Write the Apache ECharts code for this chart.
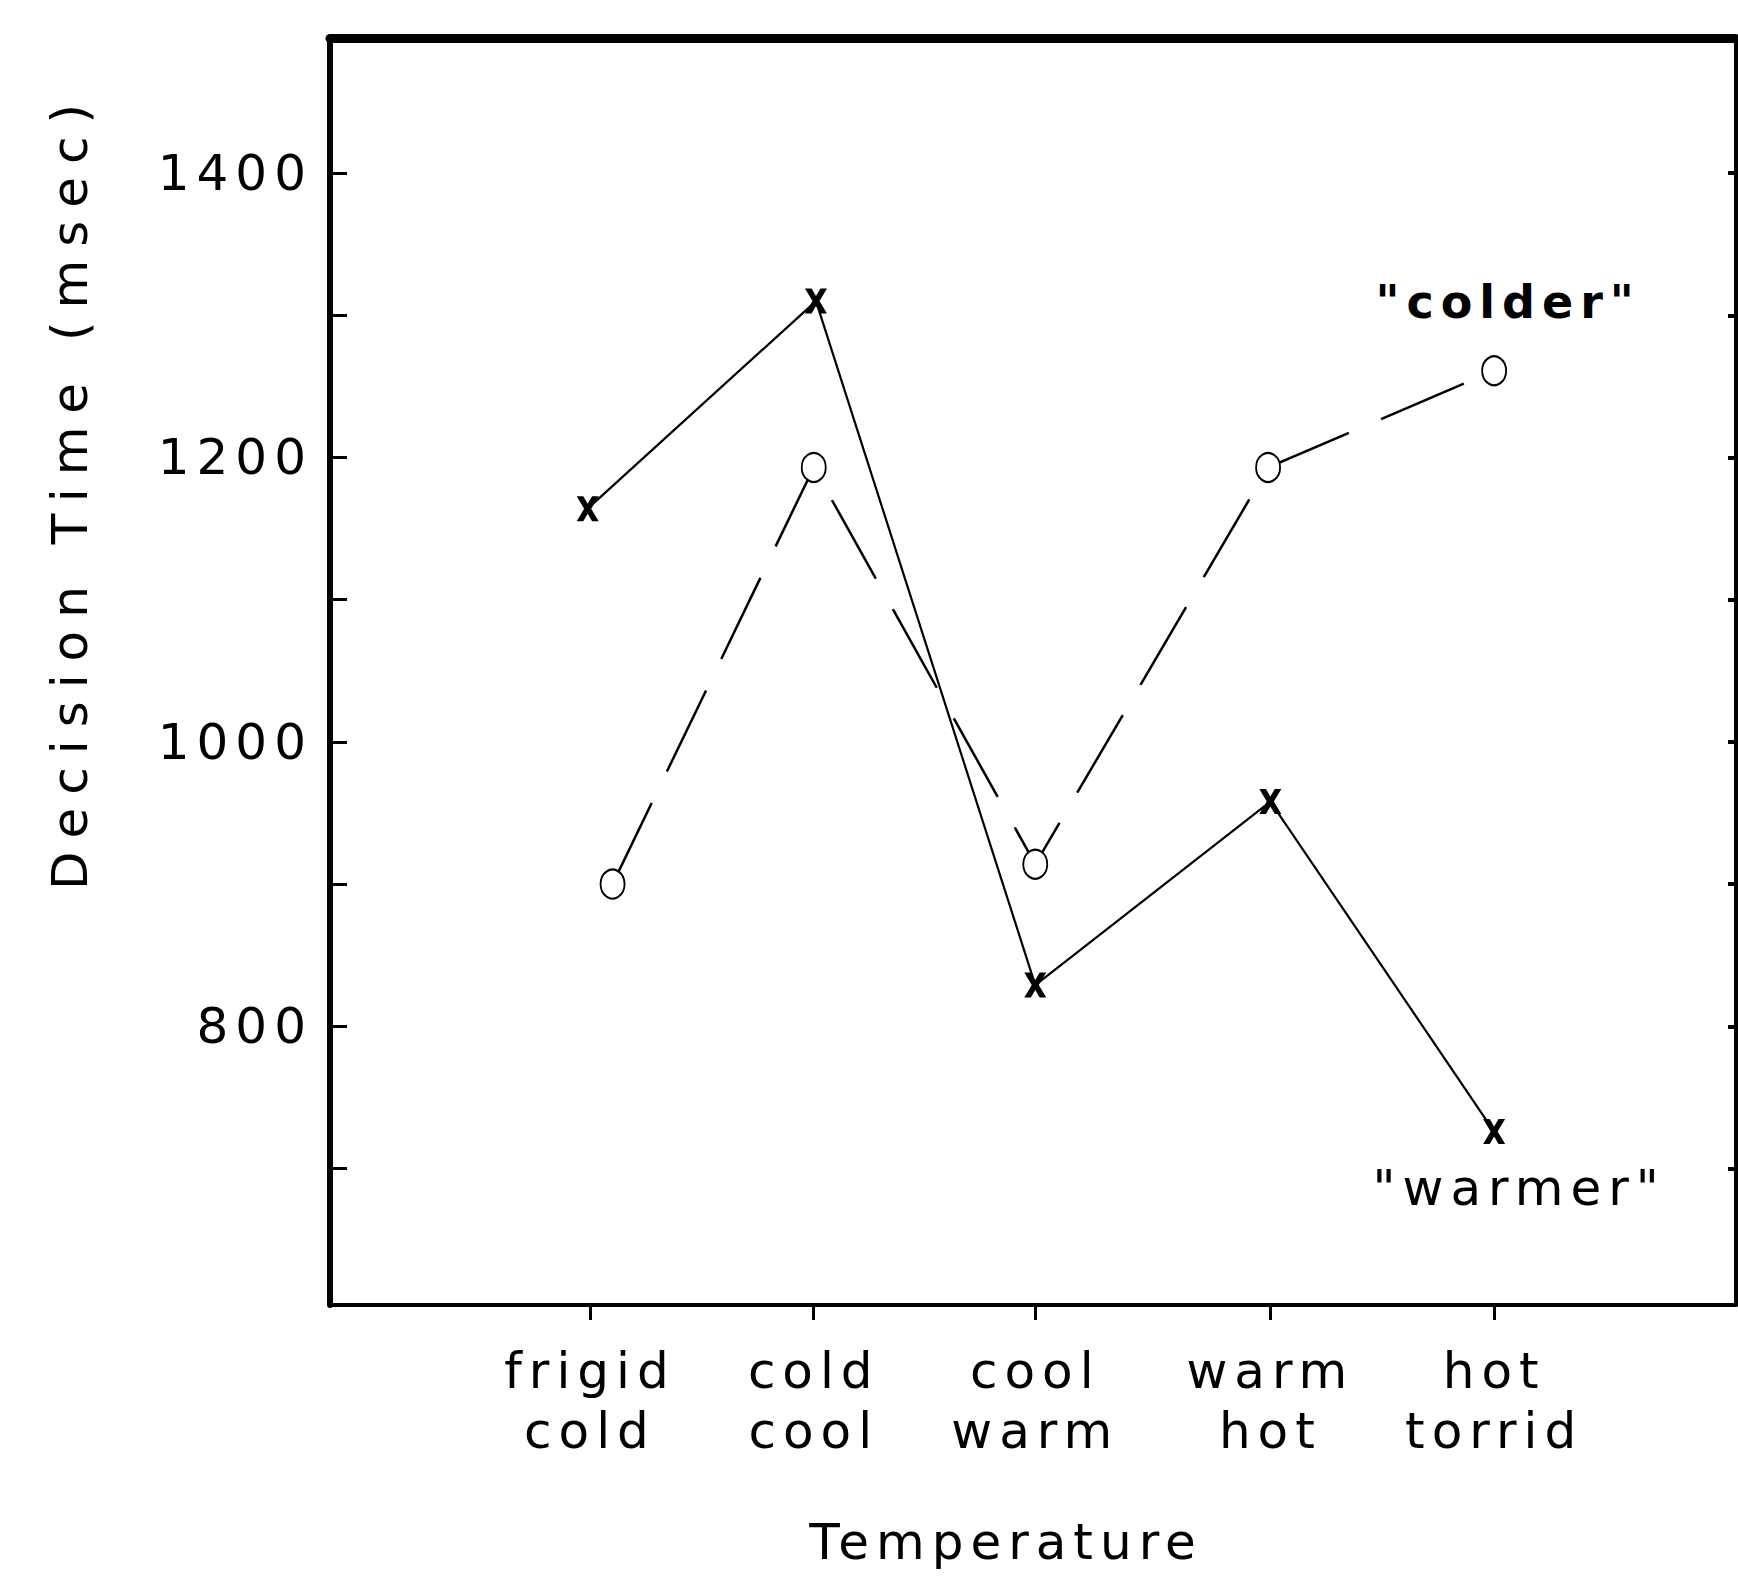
<!DOCTYPE html>
<html><head><meta charset="utf-8">
<script src="https://cdn.jsdelivr.net/npm/echarts@6/dist/echarts.min.js"></script>
<style>html,body{margin:0;padding:0;background:#fff}#c{width:1738px;height:1576px}#c text{letter-spacing:7px}</style>
</head><body><div id="c"></div>
<script>
// ---- data ----
const categories = ['frigid\ncold', 'cold\ncool', 'cool\nwarm', 'warm\nhot', 'hot\ntorrid'];
const categoryX = [1, 1.99, 2.97, 4.01, 5];
const warmerX = [0.99, 2.0, 2.97, 4.01, 5];
const warmerY = [1164, 1310, 829, 958, 726];
const colderX = [1.10, 1.99, 2.97, 4.0, 5];
const colderY = [900, 1193, 914, 1193, 1261];
const yTickValues = [700, 800, 900, 1000, 1100, 1200, 1300, 1400];
const yLabelValues = [800, 1000, 1200, 1400];
const yRange = [604, 1495];
const xRange = [-0.15, 6.07];
const xTitle = 'Temperature';
const yTitle = 'Decision Time (msec)';
const colderName = '"colder"';
const warmerName = '"warmer"';

const FONT = '"DejaVu Sans", sans-serif';
const BLACK = '#000';
const xMark = 'path://M0,0 L3,0 L5,3 L7,0 L10,0 L6.6,5 L10,10 L7,10 L5,7 L3,10 L0,10 L3.4,5 Z';

function catLabel(v) {
  let best = 0;
  categoryX.forEach((c, i) => { if (Math.abs(c - v) < Math.abs(categoryX[best] - v)) best = i; });
  return categories[best];
}

const chart = echarts.init(document.getElementById('c'), null, {renderer: 'svg'});
const option = {
  animation: false,
  backgroundColor: '#fff',
  grid: {left: 330, right: 2, top: 38, bottom: 271, containLabel: false, outerBoundsMode: 'none'},
  xAxis: [{
    type: 'value', position: 'bottom', min: xRange[0], max: xRange[1],
    axisLine: {show: true, onZero: false, lineStyle: {color: BLACK, width: 4}},
    axisTick: {show: true, inside: false, length: 15, customValues: categoryX, lineStyle: {color: BLACK, width: 3}},
    axisLabel: {show: true, customValues: categoryX, formatter: catLabel, color: BLACK,
      fontFamily: FONT, fontSize: 50, lineHeight: 60, margin: 36},
    splitLine: {show: false},
    name: xTitle, nameLocation: 'middle', nameGap: 212,
    nameTextStyle: {color: BLACK, fontFamily: FONT, fontSize: 50, padding: [0, 54, 0, 0]}
  }, {
    type: 'value', position: 'top', min: xRange[0], max: xRange[1],
    axisLine: {show: true, onZero: false, lineStyle: {color: BLACK, width: 9}},
    axisTick: {show: false}, axisLabel: {show: false}, splitLine: {show: false}
  }],
  yAxis: [{
    type: 'value', position: 'left', min: yRange[0], max: yRange[1],
    axisLine: {show: true, onZero: false, lineStyle: {color: BLACK, width: 6}},
    axisTick: {show: true, inside: true, length: 17, customValues: yTickValues, lineStyle: {color: BLACK, width: 3}},
    axisLabel: {show: true, customValues: yLabelValues, formatter: v => String(v), color: BLACK,
      fontFamily: FONT, fontSize: 50, margin: 17},
    splitLine: {show: false},
    name: yTitle, nameLocation: 'middle', nameGap: 235,
    nameTextStyle: {color: BLACK, fontFamily: FONT, fontSize: 50, padding: [0, 0, 0, 362]}
  }, {
    type: 'value', position: 'right', min: yRange[0], max: yRange[1],
    axisLine: {show: true, onZero: false, lineStyle: {color: BLACK, width: 4}},
    axisTick: {show: true, inside: true, length: 8, customValues: yTickValues, lineStyle: {color: BLACK, width: 4}},
    axisLabel: {show: false}, splitLine: {show: false}
  }],
  series: [{
    type: 'line', name: warmerName,
    data: warmerX.map((x, i) => [x, warmerY[i]]),
    symbol: xMark, symbolSize: [22, 25], symbolKeepAspect: false,
    itemStyle: {color: BLACK},
    lineStyle: {color: BLACK, width: 2.2},
    label: {show: true, position: 'bottom', distance: 5, offset: [25, 14],
      formatter: p => p.dataIndex === warmerY.length - 1 ? warmerName : '',
      color: BLACK, fontFamily: FONT, fontSize: 50}
  }, {
    type: 'line', name: colderName,
    data: colderX.map((x, i) => [x, colderY[i]]),
    symbol: 'emptyCircle', symbolSize: [24, 29],
    itemStyle: {color: BLACK, borderWidth: 3.5},
    lineStyle: {color: BLACK, width: 2.5, type: [90, 35]},
    label: {show: true, position: 'top', distance: 5, offset: [14, -25],
      formatter: p => p.dataIndex === colderY.length - 1 ? colderName : '',
      color: BLACK, fontFamily: FONT, fontSize: 46, fontWeight: 'bold'}
  }]
};
chart.setOption(option);
function applySpacing() {
  document.querySelectorAll('#c text').forEach(t => {
    t.style.letterSpacing = (t.textContent === yTitle) ? '13px' : '7px';
  });
}
chart.on('finished', applySpacing);
applySpacing();
</script>
</body></html>
